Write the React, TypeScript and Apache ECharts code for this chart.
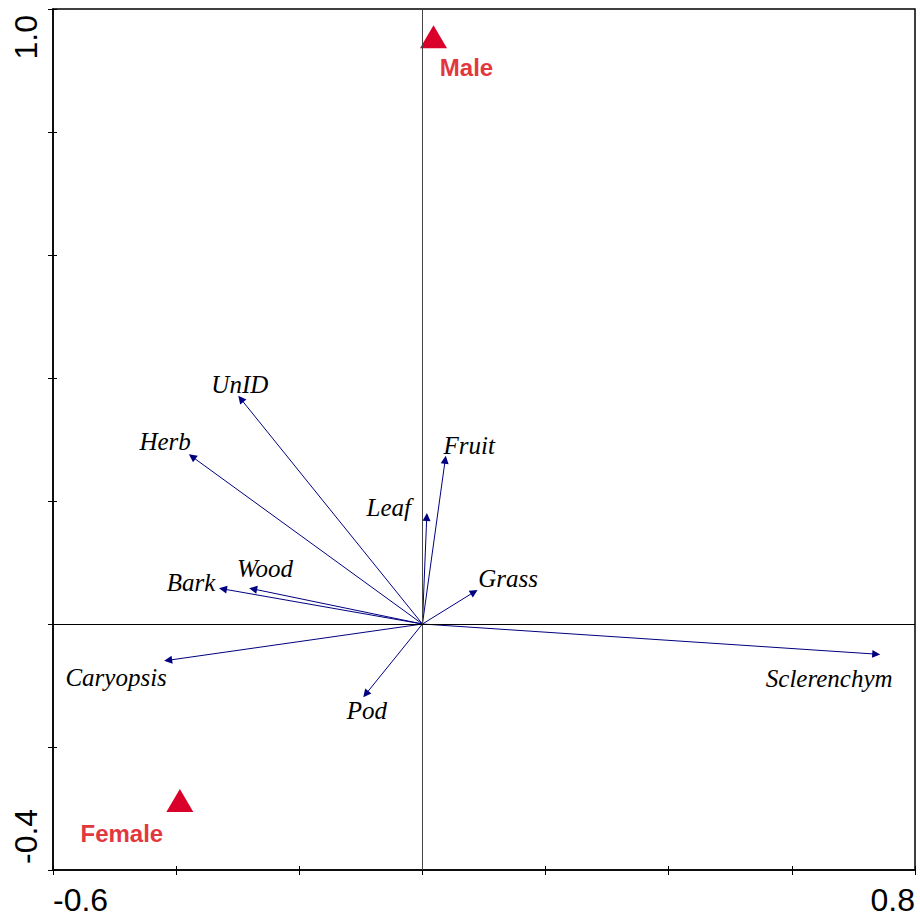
import React, { useEffect, useRef } from "react";
import * as echarts from "echarts";

// Biplot variables (arrow tips, axis 1 / axis 2 scores)
const variables = ["UnID", "Herb", "Leaf", "Fruit", "Grass", "Bark", "Wood", "Caryopsis", "Pod", "Sclerenchym"];
const axis1 = [-0.295, -0.374, 0.007, 0.037, 0.084, -0.324, -0.275, -0.413, -0.092, 0.737];
const axis2 = [0.366, 0.272, 0.174, 0.267, 0.052, 0.057, 0.057, -0.059, -0.114, -0.049];

// Sex centroids
const groups = ["Male", "Female"];
const groupX = [0.018, -0.394];
const groupY = [0.955, -0.287];

// Axis extents and end tick labels
const xRange = [-0.6, 0.8];
const yRange = [-0.4, 1.0];
const xTickLabels = ["-0.6", "0.8"];
const yTickLabels = ["-0.4", "1.0"];

// label pixel offsets (style only)
const varLabelOffsets: [number, number][] = [
  [-1, -14], [-27, -15], [-38, -9], [24, -14], [34, -14],
  [-32, -6], [12, -20], [-52, 17], [1, 16], [-47, 24],
];
const groupLabelOffsets: [number, number][] = [[33, 31], [-58, 33]];

export default function App() {
  const ref = useRef<HTMLDivElement>(null);
  useEffect(() => {
    if (!ref.current) return;
    const chart = echarts.init(ref.current, null, { renderer: "svg" });
    const endFormatter = (range: number[], labels: string[]) => (v: number) => {
      if (Math.abs(v - range[0]) < 1e-9) return labels[0];
      if (Math.abs(v - range[1]) < 1e-9) return labels[1];
      return "";
    };
    const axisFont = { fontFamily: "Liberation Sans, Arial, sans-serif", fontSize: 32, color: "#000" };
    chart.setOption({
      animation: false,
      grid: {
        left: 53, right: 5, top: 9, bottom: 48,
        show: true, borderColor: "#000", borderWidth: 1.5,
      },
      xAxis: [
        {
          type: "value", min: xRange[0], max: xRange[1], interval: 0.2, position: "bottom",
          axisLine: { show: true, onZero: false, lineStyle: { color: "#000", width: 1.5 } },
          axisTick: { show: true, length: 5, lineStyle: { color: "#000", width: 1 } },
          splitLine: { show: false },
          axisLabel: {
            ...axisFont, margin: 14,
            formatter: endFormatter(xRange, xTickLabels),
            alignMinLabel: "left", alignMaxLabel: "right",
          },
        },
        {
          type: "value", min: xRange[0], max: xRange[1], interval: 0.2, position: "bottom",
          axisLine: { show: false, onZero: false },
          axisTick: { show: true, inside: true, length: 4, lineStyle: { color: "#000", width: 1 } },
          splitLine: { show: false },
          axisLabel: { show: false },
        },
      ],
      yAxis: [
        {
          type: "value", min: yRange[0], max: yRange[1], interval: 0.2, position: "left",
          axisLine: { show: true, onZero: false, lineStyle: { color: "#000", width: 1.5 } },
          axisTick: { show: true, length: 5, lineStyle: { color: "#000", width: 1 } },
          splitLine: { show: false },
          axisLabel: {
            ...axisFont, margin: 11, rotate: 90, padding: [0, 6, 0, 6],
            formatter: endFormatter(yRange, yTickLabels),
            alignMinLabel: "left", alignMaxLabel: "right",
          },
        },
        {
          type: "value", min: yRange[0], max: yRange[1], interval: 0.2, position: "left",
          axisLine: { show: false, onZero: false },
          axisTick: { show: true, inside: true, length: 4, lineStyle: { color: "#000", width: 1 } },
          splitLine: { show: false },
          axisLabel: { show: false },
        },
      ],
      series: [
        {
          type: "line",
          data: [],
          markLine: {
            silent: true,
            symbol: "none",
            label: { show: false },
            data: [
              { xAxis: 0, lineStyle: { color: "#444", width: 1, type: "solid" } },
              { yAxis: 0, lineStyle: { color: "#000", width: 1, type: "solid" } },
            ],
          },
        },
        {
          type: "lines",
          coordinateSystem: "cartesian2d",
          symbol: ["none", "triangle"],
          symbolSize: [5, 8],
          lineStyle: { color: "#000080", width: 1, opacity: 1 },
          itemStyle: { color: "#000080" },
          data: variables.map((name, i) => ({ name, coords: [[0, 0], [axis1[i], axis2[i]]] })),
        },
        {
          type: "scatter",
          symbolSize: 0,
          silent: true,
          itemStyle: { opacity: 1 },
          data: variables.map((name, i) => ({
            name,
            value: [axis1[i], axis2[i]],
            label: { offset: varLabelOffsets[i] },
          })),
          label: {
            show: true,
            position: "inside",
            formatter: "{b}",
            fontFamily: "Liberation Serif, Times New Roman, serif",
            fontStyle: "italic",
            fontSize: 25,
            color: "#000",
          },
        },
        {
          type: "scatter",
          symbol: "triangle",
          symbolSize: [27, 23],
          itemStyle: { color: "#d9002a", opacity: 1 },
          data: groups.map((name, i) => ({
            name,
            value: [groupX[i], groupY[i]],
            label: { offset: groupLabelOffsets[i] },
          })),
          label: {
            show: true,
            position: "inside",
            formatter: "{b}",
            fontFamily: "Liberation Sans, Arial, sans-serif",
            fontWeight: "bold",
            fontSize: 24,
            color: "#e2383d",
          },
        },
      ],
    });
    return () => chart.dispose();
  }, []);
  return <div ref={ref} style={{ position: "absolute", left: 0, top: 0, width: 920, height: 918 }} />;
}
